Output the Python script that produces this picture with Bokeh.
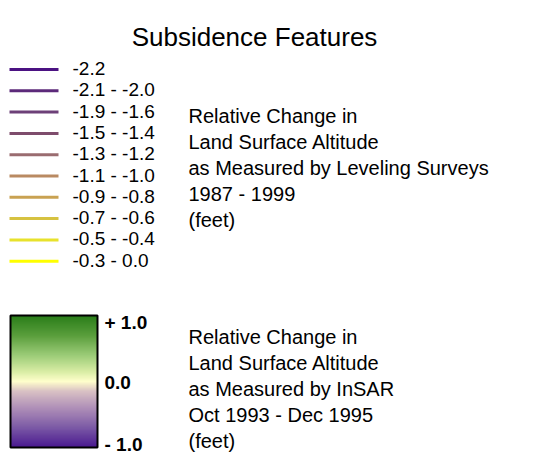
import numpy as np
from bokeh.plotting import figure
from bokeh.models import Range1d, LinearColorMapper
from bokeh.core.properties import value
from bokeh.embed import file_html
from bokeh.resources import INLINE

# ---- data ----
title = "Subsidence Features"
line_labels = ["-2.2", "-2.1 - -2.0", "-1.9 - -1.6", "-1.5 - -1.4", "-1.3 - -1.2",
               "-1.1 - -1.0", "-0.9 - -0.8", "-0.7 - -0.6", "-0.5 - -0.4", "-0.3 - 0.0"]
line_colors = ["#4b1282", "#5c2a7a", "#6d4078", "#7e4c6c", "#9a6c70",
               "#b98a62", "#c9a252", "#d6c240", "#e8e22c", "#ffff00"]
block1 = ["Relative Change in", "Land Surface Altitude",
          "as Measured by Leveling Surveys", "1987 - 1999", "(feet)"]
block2 = ["Relative Change in", "Land Surface Altitude",
          "as Measured by InSAR", "Oct 1993 - Dec 1995", "(feet)"]
bar_labels = ["+ 1.0", "0.0", "- 1.0"]
bar_label_values = [1.0, 0.0, -1.0]
bar_min, bar_max = -1.0, 1.0
grad_stop_values = [-1.0, -0.7, -0.4, -0.15, 0.0, 0.15, 0.4, 0.7, 1.0]
grad_stop_colors = ["#4a1a90", "#7c5aa6", "#b090b8", "#d8c0c4", "#ffffcc",
                    "#d8eca4", "#9ccc78", "#5a9e3c", "#2a7e1a"]

FONT = "Liberation Sans"
W, H = 552, 454


def Y(py):
    return H - py


p = figure(width=W, height=H, output_backend="svg", toolbar_location=None,
           x_range=Range1d(0, W), y_range=Range1d(0, H), min_border=0)
p.axis.visible = False
p.grid.visible = False
p.outline_line_color = None
p.background_fill_color = "white"
p.border_fill_color = "white"

# title
p.text(x=[254], y=[Y(36)], text=[title], text_font=value(FONT),
       text_font_size="26px", text_align="center", text_baseline="alphabetic",
       text_color="black")

# line legend
ys = [Y(69 + i * 21.3) for i in range(len(line_labels))]
p.multi_line(xs=[[9, 58] for _ in ys], ys=[[y, y] for y in ys],
             line_color=line_colors, line_width=3)
p.text(x=[72] * len(ys), y=[y + 1 for y in ys], text=line_labels, text_font=value(FONT),
       text_font_size="19px", text_align="left", text_baseline="middle",
       text_color="black")

# text blocks
for block, base in ((block1, 115), (block2, 336)):
    p.text(x=[188] * len(block), y=[Y(base + i * 26) for i in range(len(block))],
           text=block, text_font=value(FONT), text_font_size="20px",
           text_align="left", text_baseline="alphabetic", text_color="black")

# color bar
stops = np.array(grad_stop_values)
rgb = np.array([[int(c[i:i + 2], 16) for i in (1, 3, 5)] for c in grad_stop_colors], float)
vals = np.linspace(bar_min, bar_max, 256)
palette = ["#%02x%02x%02x" % tuple(int(round(np.interp(v, stops, rgb[:, k]))) for k in range(3))
           for v in vals]
mapper = LinearColorMapper(palette=palette, low=bar_min, high=bar_max)
bar_top, bar_bot = 315, 447
img = np.linspace(bar_min, bar_max, 200).reshape(200, 1)
p.image(image=[img], x=10, y=Y(bar_bot), dw=87, dh=bar_bot - bar_top, color_mapper=mapper)
p.quad(left=[10], right=[97], bottom=[Y(bar_bot)], top=[Y(bar_top)],
       fill_color=None, line_color="black", line_width=2)

label_y = [Y(bar_bot - (v - bar_min) / (bar_max - bar_min) * (bar_bot - bar_top)) for v in bar_label_values]
label_y = [label_y[0] - 7, label_y[1] - 1, label_y[2] + 3]
p.text(x=[104] * 3, y=label_y, text=bar_labels, text_font=value(FONT),
       text_font_size="19px", text_font_style="bold", text_align="left",
       text_baseline="middle", text_color="black")

open("out.html", "w").write(file_html(p, INLINE))
